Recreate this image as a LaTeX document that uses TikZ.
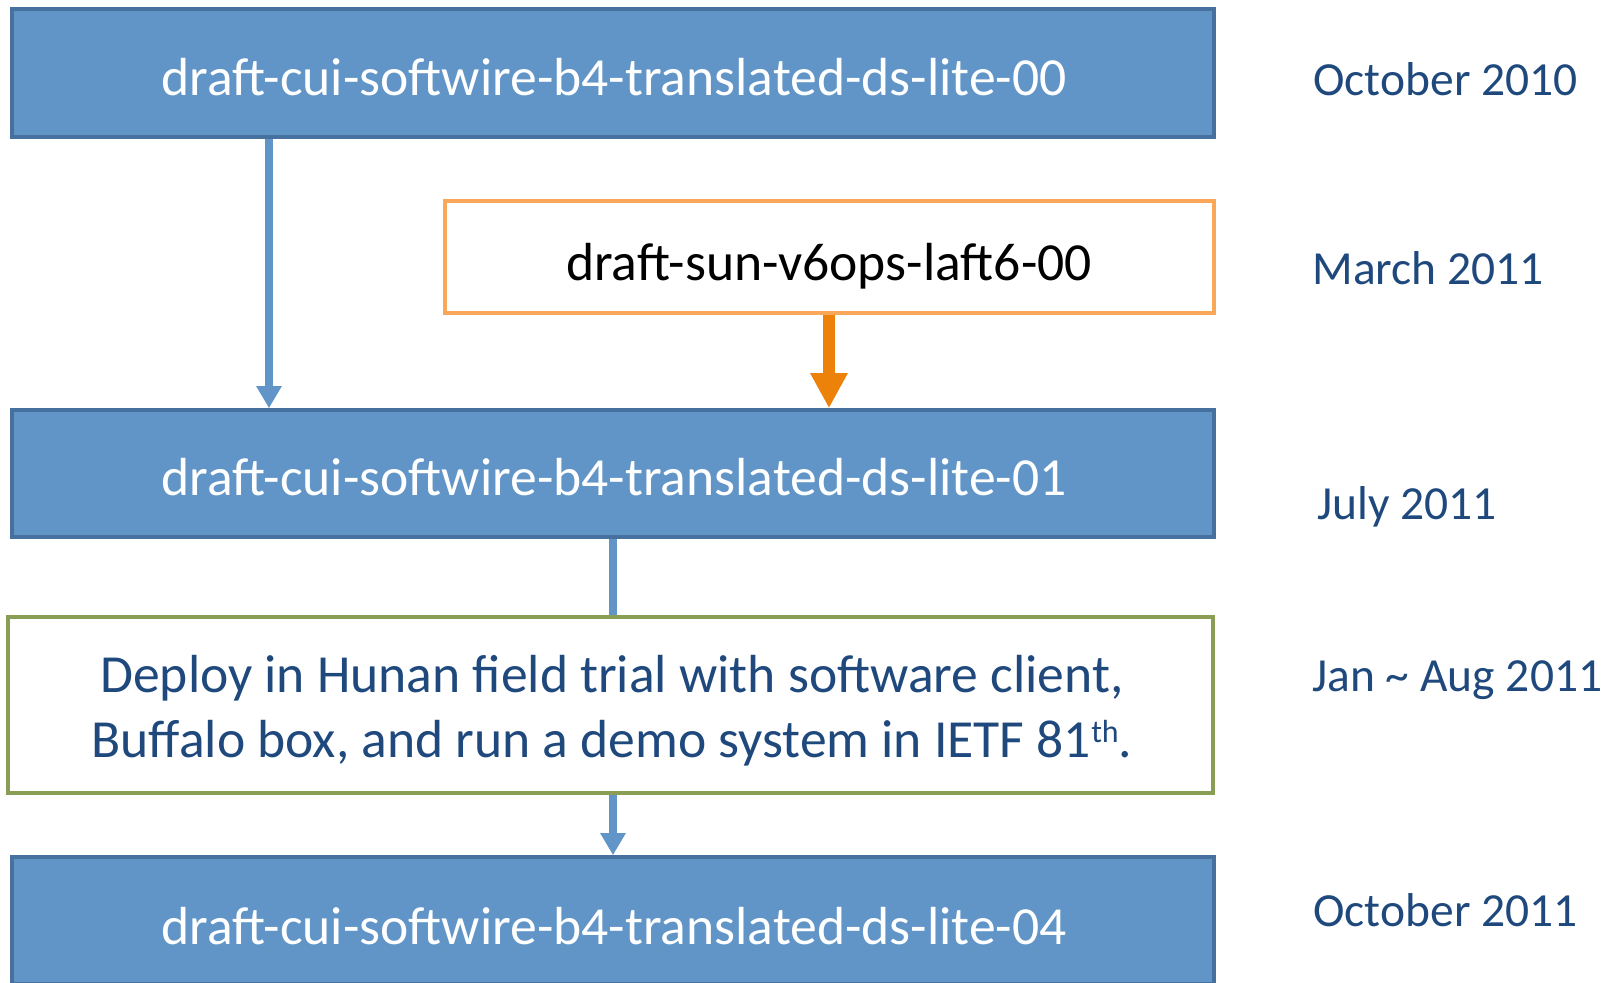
\documentclass[tikz,border=0pt]{standalone}
\usepackage{fontspec}
\setmainfont{Carlito}
\usetikzlibrary{arrows.meta}
\definecolor{boxfill}{HTML}{6195C8}
\definecolor{boxline}{HTML}{46719E}
\definecolor{orline}{HTML}{F9A85A}
\definecolor{orarrow}{HTML}{EC8209}
\definecolor{grline}{HTML}{8A9D55}
\definecolor{navy}{HTML}{1F497D}
\newcommand{\supth}[1]{\raisebox{7.5pt}{\fontsize{16}{18}\selectfont #1}}
\tikzset{
  bluebox/.style={draw=boxline, fill=boxfill, line width=1.8pt, inner sep=0pt, rectangle},
  orbox/.style={draw=orline, fill=white, line width=1.8pt, inner sep=0pt, rectangle},
  grbox/.style={draw=grline, fill=white, line width=1.8pt, inner sep=0pt, rectangle},
  boxtext/.style={anchor=base, inner sep=0pt, font=\fontsize{26.8}{32.5}\selectfont},
  datetext/.style={anchor=base west, inner sep=0pt, text=navy, font=\fontsize{23.75}{28}\selectfont},
  bluearrow/.style={draw=boxfill, line width=4pt, -{Triangle[width=12pt,length=11pt]}},
  blueline/.style={draw=boxfill, line width=4pt},
  orangearrow/.style={draw=orarrow, line width=6pt, -{Triangle[width=17.5pt,length=17.5pt]}},
}
\begin{document}
\begin{tikzpicture}[x=0.5pt,y=-0.5pt]
\useasboundingbox (0,0) rectangle (1619,982);
% boxes
\node[bluebox, minimum width=601pt, minimum height=64pt] (b1) at (613,73) {};
\node[orbox, minimum width=384.5pt, minimum height=56pt] (o1) at (829.5,257) {};
\node[bluebox, minimum width=601pt, minimum height=63.5pt] (b2) at (613,473.5) {};
\node[grbox, minimum width=602.5pt, minimum height=88pt] (g1) at (610.5,705) {};
\node[bluebox, minimum width=601pt, minimum height=63.5pt] (b3) at (613,920.5) {};
% connector x positions
\coordinate (lx) at (269,0);
\coordinate (ox) at (829,0);
\coordinate (cx) at (613,0);
% connectors
\draw[bluearrow] (b1.south -| lx) -- (b2.north -| lx);
\draw[orangearrow] (o1.south -| ox) -- (b2.north -| ox);
\draw[blueline] (b2.south -| cx) -- (g1.north -| cx);
\draw[bluearrow] (g1.south -| cx) -- (b3.north -| cx);
% box texts
\node[boxtext, text=white] (t1) at (614,95) {draft-cui-softwire-b4-translated-ds-lite-00};
\node[boxtext, text=black] (t2) at (829,280) {draft-sun-v6ops-laft6-00};
\node[boxtext, text=white] (t3) at (614,495) {draft-cui-softwire-b4-translated-ds-lite-01};
\node[boxtext, text=navy] (t4) at (612,692) {Deploy in Hunan field trial with software client,};
\node[boxtext, text=navy] (t5) at (612,757) {Buffalo box, and run a demo system in IETF 81\supth{th}.};
\node[boxtext, text=white] (t6) at (614,944) {draft-cui-softwire-b4-translated-ds-lite-04};
% dates
\node[datetext] (d1) at (1313,95) {October 2010};
\node[datetext] (d2) at (1312,284) {March 2011};
\node[datetext] (d3) at (1317,519) {July 2011};
\node[datetext] (d4) at (1312,691) {Jan \textasciitilde{} Aug 2011};
\node[datetext] (d5) at (1313,926) {October 2011};
\end{tikzpicture}
\end{document}
